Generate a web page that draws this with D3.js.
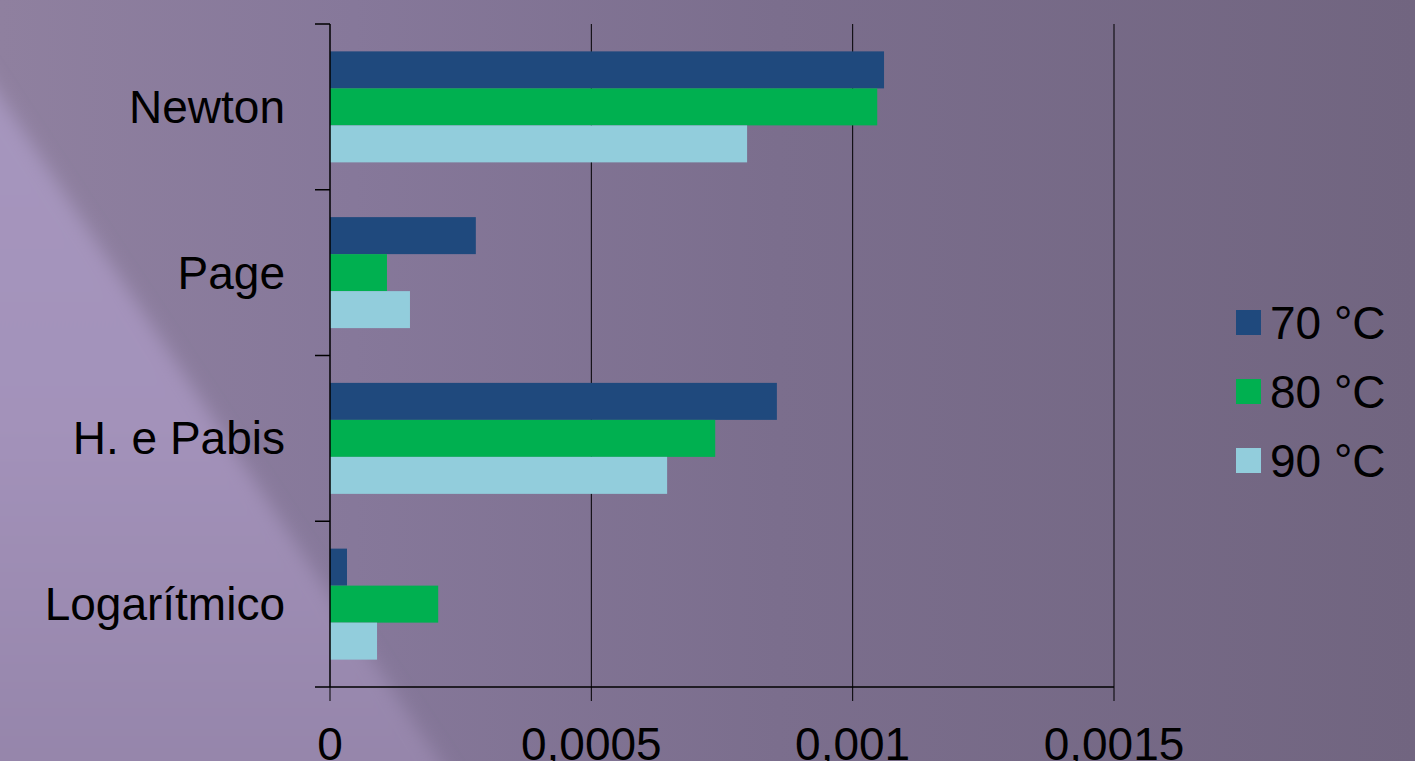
<!DOCTYPE html>
<html>
<head>
<meta charset="utf-8">
<script src="https://cdn.jsdelivr.net/npm/d3@7"></script>
<style>
  html, body { margin: 0; padding: 0; overflow: hidden; }
  svg { display: block; font-family: "Liberation Sans", Arial, sans-serif; }
</style>
</head>
<body>
<div id="chart"></div>
<script>
const categories = ["Newton", "Page", "H. e Pabis", "Logarítmico"];
const series = ["70 °C", "80 °C", "90 °C"];
const values70 = [0.00106, 0.000279, 0.000855, 0.0000325];
const values80 = [0.001047, 0.000109, 0.000737, 0.000207];
const values90 = [0.000798, 0.000153, 0.000645, 0.00009];
const xTicks = [0, 0.0005, 0.001, 0.0015];
const colors = ["#1f497d", "#00b050", "#92cddc"];

const width = 1415;
const height = 761;
const margin = { top: 24, left: 330, right: 301, bottom: 74 };

const svg = d3.select("#chart")
  .append("svg")
  .attr("width", width)
  .attr("height", height);

// background: purple gradient with a lighter diagonal wedge on the left
const defs = svg.append("defs");
const bg = defs.append("linearGradient").attr("id", "bg").attr("x1", "0%").attr("x2", "100%");
[["0%", "#8f809f"], ["25%", "#86789a"], ["55%", "#7b6e8d"], ["100%", "#716580"]]
  .forEach(([o, c]) => bg.append("stop").attr("offset", o).attr("stop-color", c));

const light = defs.append("linearGradient").attr("id", "light")
  .attr("x1", "0%").attr("y1", "0%").attr("x2", "0%").attr("y2", "100%");
[["0%", "#a696be"], ["50%", "#a392ba"], ["100%", "#9484a9"]]
  .forEach(([o, c]) => light.append("stop").attr("offset", o).attr("stop-color", c));

defs.append("filter").attr("id", "soft")
  .attr("x", "-20%").attr("y", "-20%").attr("width", "140%").attr("height", "140%")
  .append("feGaussianBlur").attr("stdDeviation", 9);

svg.append("rect").attr("width", width).attr("height", height).attr("fill", "url(#bg)");
svg.append("path")
  .attr("d", "M-40,35 L465,800 L-40,800 Z")
  .attr("fill", "url(#light)")
  .attr("filter", "url(#soft)");

const x = d3.scaleLinear()
  .domain([0, 0.0015])
  .range([margin.left, width - margin.right]);

const y0 = d3.scaleBand()
  .domain(categories)
  .range([margin.top, height - margin.bottom])
  .padding(0);

const y1 = d3.scaleBand()
  .domain(series)
  .range([0, y0.bandwidth()])
  .paddingInner(0)
  .paddingOuter(0.74);

// gridlines
svg.append("g")
  .selectAll("line")
  .data(xTicks.slice(1))
  .join("line")
  .attr("x1", (d) => x(d))
  .attr("x2", (d) => x(d))
  .attr("y1", margin.top)
  .attr("y2", height - margin.bottom)
  .attr("stroke", "#000")
  .attr("stroke-width", 1);

// bars
const table = categories.map((c, i) => ({
  category: c,
  vals: [values70[i], values80[i], values90[i]].map((v, j) => ({ key: series[j], value: v, color: colors[j] })),
}));

svg.append("g")
  .selectAll("g")
  .data(table)
  .join("g")
  .attr("transform", (d) => `translate(0,${y0(d.category)})`)
  .selectAll("rect")
  .data((d) => d.vals)
  .join("rect")
  .attr("x", x(0))
  .attr("y", (d) => y1(d.key))
  .attr("width", (d) => x(d.value) - x(0))
  .attr("height", y1.bandwidth())
  .attr("fill", (d) => d.color);

// y axis
const yAxis = svg.append("g");
yAxis.append("line")
  .attr("x1", x(0)).attr("x2", x(0))
  .attr("y1", margin.top).attr("y2", height - margin.bottom)
  .attr("stroke", "#000").attr("stroke-width", 1.5);

const yBounds = categories.map((c) => y0(c)).concat([height - margin.bottom]);
yAxis.selectAll(".tick")
  .data(yBounds)
  .join("line")
  .attr("x1", x(0) - 15).attr("x2", x(0))
  .attr("y1", (d) => d).attr("y2", (d) => d)
  .attr("stroke", "#000").attr("stroke-width", 1.5);

yAxis.selectAll("text")
  .data(categories)
  .join("text")
  .attr("x", x(0) - 45)
  .attr("y", (d) => y0(d) + y0.bandwidth() / 2)
  .attr("dy", "0.35em")
  .attr("text-anchor", "end")
  .attr("font-size", 46)
  .attr("fill", "#000")
  .text((d) => d);

// x axis
const xAxis = svg.append("g");
xAxis.append("line")
  .attr("x1", x(0)).attr("x2", x(0.0015))
  .attr("y1", height - margin.bottom).attr("y2", height - margin.bottom)
  .attr("stroke", "#000").attr("stroke-width", 1.5);

xAxis.selectAll(".tk")
  .data(xTicks)
  .join("line")
  .attr("class", "tk")
  .attr("x1", (d) => x(d)).attr("x2", (d) => x(d))
  .attr("y1", height - margin.bottom).attr("y2", height - margin.bottom + 14)
  .attr("stroke", "#000").attr("stroke-width", 1);

const fmt = (d) => String(d).replace(".", ",");
xAxis.selectAll("text")
  .data(xTicks)
  .join("text")
  .attr("x", (d) => x(d))
  .attr("y", 760)
  .attr("text-anchor", "middle")
  .attr("font-size", 46)
  .attr("fill", "#000")
  .text(fmt);

// legend
const legend = svg.append("g").attr("transform", "translate(1236,310)");
const rows = legend.selectAll("g")
  .data(series)
  .join("g")
  .attr("transform", (d, i) => `translate(0,${i * 69})`);
rows.append("rect")
  .attr("width", 25).attr("height", 25)
  .attr("fill", (d, i) => colors[i]);
rows.append("text")
  .attr("x", 34)
  .attr("y", 12.5)
  .attr("dy", "0.35em")
  .attr("font-size", 46)
  .attr("fill", "#000")
  .text((d) => d);
</script>
</body>
</html>
